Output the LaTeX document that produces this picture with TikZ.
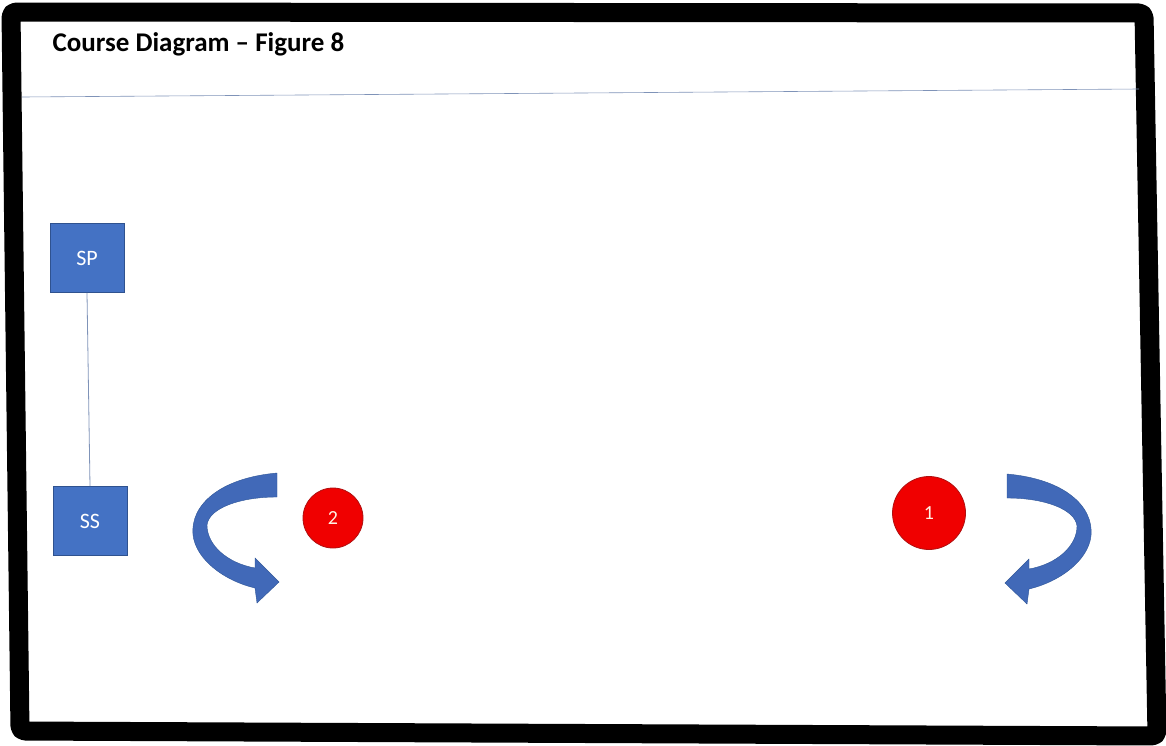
\documentclass[tikz,border=0pt]{standalone}
\usepackage{fontspec}
\setmainfont{Carlito}
\usepackage{xcolor}
\usetikzlibrary{positioning}
\definecolor{boxblue}{HTML}{4472C4}
\definecolor{boxedge}{HTML}{2F528F}
\definecolor{arrowblue}{HTML}{4169B8}
\definecolor{arrowdark}{HTML}{2E5597}
\definecolor{markred}{HTML}{F00000}
\definecolor{markedge}{HTML}{B01010}
\definecolor{rulegray}{HTML}{7F93B8}
\tikzset{
  stationbox/.style={draw=boxedge, fill=boxblue, thick, minimum width=74pt, minimum height=69pt, text=white, font=\fontsize{22}{26}\selectfont},
  marker/.style={circle, draw=markedge, fill=markred, thick, text=white!90!orange, font=\fontsize{20}{24}\selectfont},
  turnarrow/.style={fill=arrowblue, draw=arrowdark, thin}
}
\newcommand{\turnshape}{%
  (0,0) .. controls (-57,5) and (-87,32) .. (-84,62)
        .. controls (-81,87) and (-52,108) .. (-22,115)
  -- (-20,130) -- (2,109) -- (-22,85) -- (-22,95)
        .. controls (-50,90) and (-70,72) .. (-70,52)
        .. controls (-68,35) and (-37,24) .. (0,24) -- cycle}

\begin{document}
\begin{tikzpicture}[x=1pt, y=-1pt]
          \useasboundingbox (0,0) rectangle (1166,745);
          % frame and header
          \draw[line width=19pt, rounded corners=5pt, line join=round] (11,12) -- (1144,13) -- (1150,350) -- (1157,736) -- (20,731) -- cycle;
          \draw[rulegray, semithick] (22,97) -- (1139,89);
          \node[anchor=west, font=\bfseries\fontsize{27}{32}\selectfont] (title) at (49,44) {Course Diagram -- Figure 8};
          % stations
          \node[stationbox] (sp) at (87,258) {SP};
          \node[stationbox] (ss) at (90,521) {SS};
          \draw[rulegray, thick] (sp.south) -- (ss.north);
          % markers
          \node[marker, minimum size=60pt] (two) at (333,518) {2};
          \node[marker, minimum size=73pt] (one) at (929,513) {1};
          % turning arrows
          \fill[turnarrow, shift={(277,473)}] \turnshape;
          \fill[turnarrow, shift={(1007,474)}, xscale=-1] \turnshape;
        \end{tikzpicture}
\end{document}
